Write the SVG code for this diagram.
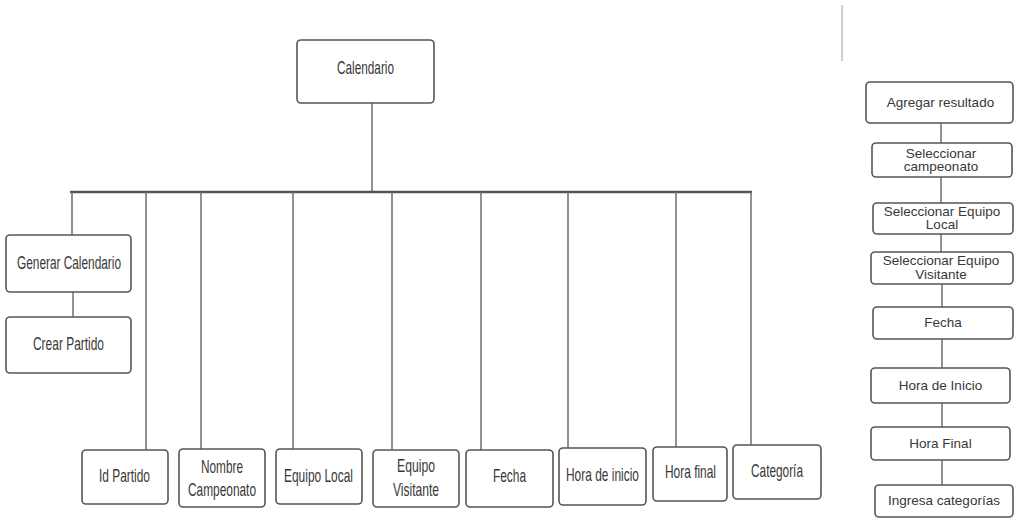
<svg xmlns="http://www.w3.org/2000/svg" width="1015" height="519" viewBox="0 0 1015 519">
<style>
  .box { fill: #ffffff; stroke: #555555; stroke-width: 1.6; }
  .ln { stroke: #6e6e6e; stroke-width: 1.5; fill: none; }
  .bar { stroke: #555555; stroke-width: 2.6; fill: none; }
  .tl { font-family: "Liberation Sans Narrow", "Liberation Sans", Arial, sans-serif; font-size: 18.5px; fill: #383838; text-anchor: middle; }
  .tr { font-family: "Liberation Sans", Arial, sans-serif; font-size: 13.5px; fill: #383838; text-anchor: middle; }
</style>
<rect width="1015" height="519" fill="#ffffff"/>
<g id="connectors">
  <line class="ln" x1="372" y1="103" x2="372" y2="192"/>
  <line class="bar" x1="70" y1="192" x2="752" y2="192"/>
  <line class="ln" x1="72" y1="192" x2="72" y2="235"/>
  <line class="ln" x1="73" y1="292" x2="73" y2="317"/>
  <line class="ln" x1="146" y1="192" x2="146" y2="450"/>
  <line class="ln" x1="201" y1="192" x2="201" y2="449"/>
  <line class="ln" x1="293" y1="192" x2="293" y2="449"/>
  <line class="ln" x1="392" y1="192" x2="392" y2="450"/>
  <line class="ln" x1="481" y1="192" x2="481" y2="450"/>
  <line class="ln" x1="568" y1="192" x2="568" y2="448"/>
  <line class="ln" x1="676" y1="192" x2="676" y2="447"/>
  <line class="ln" x1="751" y1="192" x2="751" y2="445"/>
  <line class="ln" x1="941" y1="123" x2="941" y2="143"/>
  <line class="ln" x1="941" y1="177" x2="941" y2="203"/>
  <line class="ln" x1="941" y1="234" x2="941" y2="252"/>
  <line class="ln" x1="942" y1="284" x2="942" y2="307"/>
  <line class="ln" x1="942" y1="339" x2="942" y2="368"/>
  <line class="ln" x1="942" y1="403" x2="942" y2="427"/>
  <line class="ln" x1="942" y1="460" x2="942" y2="485"/>
</g>
<line x1="842" y1="5" x2="842" y2="61" stroke="#a0a0a0" stroke-width="1"/>
<g id="calendario">
  <rect class="box" x="297" y="40" width="137" height="63" rx="4"/>
  <text class="tl" x="365.5" y="73.5" textLength="57" lengthAdjust="spacingAndGlyphs">Calendario</text>
</g>
<g id="generar-calendario">
  <rect class="box" x="6" y="235" width="125" height="57" rx="4"/>
  <text class="tl" x="69" y="269" textLength="104" lengthAdjust="spacingAndGlyphs">Generar Calendario</text>
</g>
<g id="crear-partido">
  <rect class="box" x="6" y="317" width="125" height="56" rx="4"/>
  <text class="tl" x="68.5" y="350" textLength="71" lengthAdjust="spacingAndGlyphs">Crear Partido</text>
</g>
<g id="id-partido">
  <rect class="box" x="82" y="450" width="86" height="54" rx="4"/>
  <text class="tl" x="124.5" y="482" textLength="51" lengthAdjust="spacingAndGlyphs">Id Partido</text>
</g>
<g id="nombre-campeonato">
  <rect class="box" x="179" y="449" width="86" height="58" rx="4"/>
  <text class="tl" x="222" y="473" textLength="42" lengthAdjust="spacingAndGlyphs">Nombre</text>
  <text class="tl" x="222" y="496" textLength="68" lengthAdjust="spacingAndGlyphs">Campeonato</text>
</g>
<g id="equipo-local">
  <rect class="box" x="276" y="449" width="86" height="55" rx="4"/>
  <text class="tl" x="318.5" y="482" textLength="69" lengthAdjust="spacingAndGlyphs">Equipo Local</text>
</g>
<g id="equipo-visitante">
  <rect class="box" x="373" y="450" width="86" height="57" rx="4"/>
  <text class="tl" x="416" y="472" textLength="38" lengthAdjust="spacingAndGlyphs">Equipo</text>
  <text class="tl" x="416" y="496" textLength="46" lengthAdjust="spacingAndGlyphs">Visitante</text>
</g>
<g id="fecha">
  <rect class="box" x="466" y="450" width="87" height="57" rx="4"/>
  <text class="tl" x="509.5" y="482" textLength="33" lengthAdjust="spacingAndGlyphs">Fecha</text>
</g>
<g id="hora-de-inicio">
  <rect class="box" x="559" y="448" width="87" height="57" rx="4"/>
  <text class="tl" x="602.5" y="481" textLength="73" lengthAdjust="spacingAndGlyphs">Hora de inicio</text>
</g>
<g id="hora-final">
  <rect class="box" x="653" y="447" width="74" height="54" rx="4"/>
  <text class="tl" x="690.5" y="478" textLength="51" lengthAdjust="spacingAndGlyphs">Hora final</text>
</g>
<g id="categoria">
  <rect class="box" x="733" y="445" width="88" height="54" rx="4"/>
  <text class="tl" x="777" y="477" textLength="52" lengthAdjust="spacingAndGlyphs">Categoría</text>
</g>
<g id="agregar-resultado">
  <rect class="box" x="866" y="82" width="147" height="41" rx="4"/>
  <text class="tr" x="940.5" y="107">Agregar resultado</text>
</g>
<g id="seleccionar-campeonato">
  <rect class="box" x="872" y="143" width="140" height="34" rx="4"/>
  <text class="tr" x="941" y="158">Seleccionar</text>
  <text class="tr" x="941" y="171">campeonato</text>
</g>
<g id="seleccionar-equipo-local">
  <rect class="box" x="873" y="203" width="140" height="31" rx="4"/>
  <text class="tr" x="942" y="216">Seleccionar Equipo</text>
  <text class="tr" x="942" y="229">Local</text>
</g>
<g id="seleccionar-equipo-visitante">
  <rect class="box" x="871" y="252" width="142" height="32" rx="4"/>
  <text class="tr" x="941" y="265">Seleccionar Equipo</text>
  <text class="tr" x="941" y="279">Visitante</text>
</g>
<g id="fecha-r">
  <rect class="box" x="873" y="307" width="140" height="32" rx="4"/>
  <text class="tr" x="943" y="327">Fecha</text>
</g>
<g id="hora-de-inicio-r">
  <rect class="box" x="871" y="368" width="139" height="35" rx="4"/>
  <text class="tr" x="940.5" y="390">Hora de Inicio</text>
</g>
<g id="hora-final-r">
  <rect class="box" x="871" y="427" width="139" height="33" rx="4"/>
  <text class="tr" x="940.5" y="448">Hora Final</text>
</g>
<g id="ingresa-categorias">
  <rect class="box" x="875" y="485" width="138" height="32" rx="4"/>
  <text class="tr" x="944" y="505">Ingresa categorías</text>
</g>
</svg>
